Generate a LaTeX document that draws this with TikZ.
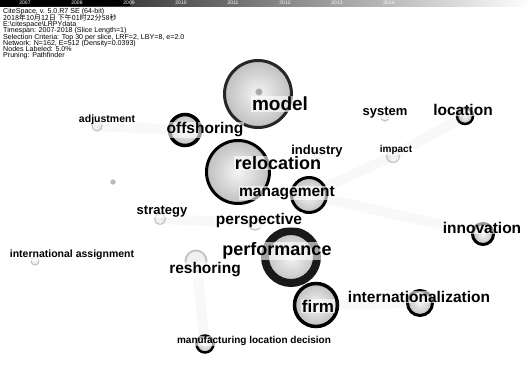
\documentclass[tikz,border=0pt]{standalone}
\usepackage{fontspec}
\setmainfont{Liberation Sans}
\newfontfamily\cjkfont{Noto Sans CJK SC}
\begin{document}
\begin{tikzpicture}[x=1pt, y=-1pt,
                    knode/.style = {shape = circle,
                                    inner sep=0pt,
                                    draw = black,
                                    line width = 3pt,
                                    inner color = gray!8,
                                    outer color = gray!50},
                    fnode/.style = {shape = circle,
                                    inner sep=0pt,
                                    draw = gray!45,
                                    line width = 1.2pt,
                                    fill = gray!12},
                    klabel/.style = {font=\bfseries\fontsize{#1}{#1}\selectfont,
                                     inner sep=0.6pt,
                                     fill = white,
                                     fill opacity = 0.6,
                                     text opacity = 1},
                    link/.style = {draw = gray!70,
                                   line width = 10pt,
                                   opacity = 0.07,
                                   line cap = round}]
		\useasboundingbox (0,0) rectangle (532,378);
		\fill[white] (0,0) rectangle (532,378);
		% time bar
		\shade[left color=black, middle color=gray!55, right color=white] (0,0) rectangle (532,6);
		\fill[black] (0,0) rectangle (130,6);
		\foreach \yr [count=\i from 0] in {2007,...,2014}
			\node[font=\fontsize{5}{5}\selectfont, text=white, inner sep=0pt] (yr\i) at (25+52*\i,3) {\yr};
		% header
		\node[anchor=north west, align=left, inner sep=0pt,
		      font={\fontsize{7.1}{6.3}\selectfont\lineskiplimit -6pt\relax}] (info) at (3,8.5)
		     {CiteSpace, v. 5.0.R7 SE (64-bit)\\
		      {\cjkfont 2018年10月12日 下午01时22分58秒}\\
		      E:\textbackslash citespace\textbackslash LRPYdata\\
		      Timespan: 2007-2018 (Slice Length=1)\\
		      Selection Criteria: Top 30 per slice, LRF=2, LBY=8, e=2.0\\
		      Network: N=162, E=512 (Density=0.0393)\\
		      Nodes Labeled: 5.0\%\\
		      Pruning: Pathfinder};
		% nodes
		\node[fnode, minimum size = 10pt] (n-adjust) at (97,126) {};
		\node[fnode, minimum size = 8pt] (n-intassign) at (35,261) {};
		\node[fnode, minimum size = 11pt] (n-strategy) at (160,219) {};
		\node[fnode, minimum size = 13pt] (n-impact) at (393,156) {};
		\node[fnode, minimum size = 14pt] (n-persp) at (255,223) {};
		\node[fnode, minimum size = 8pt] (n-industry) at (318,155) {};
		\node[fnode, minimum size = 8pt] (n-system) at (385,117) {};
		\node[fnode, minimum size = 4pt, fill=gray!55, draw=gray!55] (n-dot) at (113,182) {};
		\path (n-persp) edge[link] (n-strategy);
		\node[fnode, minimum size = 21pt, line width = 2pt] (n-resh) at (196,261) {};
		\node[knode, minimum size = 17pt, line width = 2.5pt] (n-manuf) at (205,344) {};
		\node[knode, minimum size = 16pt, line width = 2.5pt] (n-loc) at (465,116) {};
		\node[knode, minimum size = 21pt] (n-innov) at (483,234) {};
		\node[knode, minimum size = 25pt] (n-inter) at (420,303) {};
		\node[knode, minimum size = 43pt, line width = 3.5pt] (n-firm) at (316,305) {};
		\node[knode, minimum size = 52pt, line width = 8pt, draw=black!90] (n-perf) at (291,257) {};
		\node[knode, minimum size = 35pt] (n-mgmt) at (309,195) {};
		\node[knode, minimum size = 63pt] (n-reloc) at (238,172) {};
		\node[knode, minimum size = 31pt, line width = 3.5pt] (n-offsh) at (185,130) {};
		\node[knode, minimum size = 67pt, draw=black!85] (n-model) at (258,94) {};
		\node[fnode, minimum size = 6pt, fill=gray!70, draw=gray!60] (n-core) at (259,92) {};
		% links
		\path (n-mgmt) edge[link] (n-impact)
		      (n-mgmt) edge[link] (n-innov)
		      (n-resh) edge[link] (n-manuf)
		      (n-offsh) edge[link] (n-adjust)
		      (n-firm) edge[link] (n-inter)
		      (n-impact) edge[link] (n-loc);
		% labels
		\node[klabel=10.5] (adjustment) at (107,120) {adjustment};
		\node[klabel=10.5] (intassign) at (72,255) {international assignment};
		\node[klabel=13] (strategy) at (162,212) {strategy};
		\node[klabel=10] (impact) at (396,150) {impact};
		\node[klabel=13] (system) at (385,113) {system};
		\node[klabel=13] (industry) at (317,151) {industry};
		\node[klabel=15.5] (location) at (463,110) {location};
		\node[klabel=15.5] (innovation) at (482,228) {innovation};
		\node[klabel=15.5] (internat) at (419,297) {internationalization};
		\node[klabel=10] (manuf) at (254,341) {manufacturing location decision};
		\node[klabel=15.5] (reshoring) at (205,270) {reshoring};
		\node[klabel=17] (firm) at (318,306) {firm};
		\node[klabel=15.5] (perspective) at (259,220) {perspective};
		\node[klabel=18] (performance) at (277,251) {performance};
		\node[klabel=15.5] (management) at (287,193) {management};
		\node[klabel=18] (relocation) at (278,163) {relocation};
		\node[klabel=15.5] (offshoring) at (205,130) {offshoring};
		\node[klabel=19] (model) at (280,104) {model};
	\end{tikzpicture}
\end{document}
